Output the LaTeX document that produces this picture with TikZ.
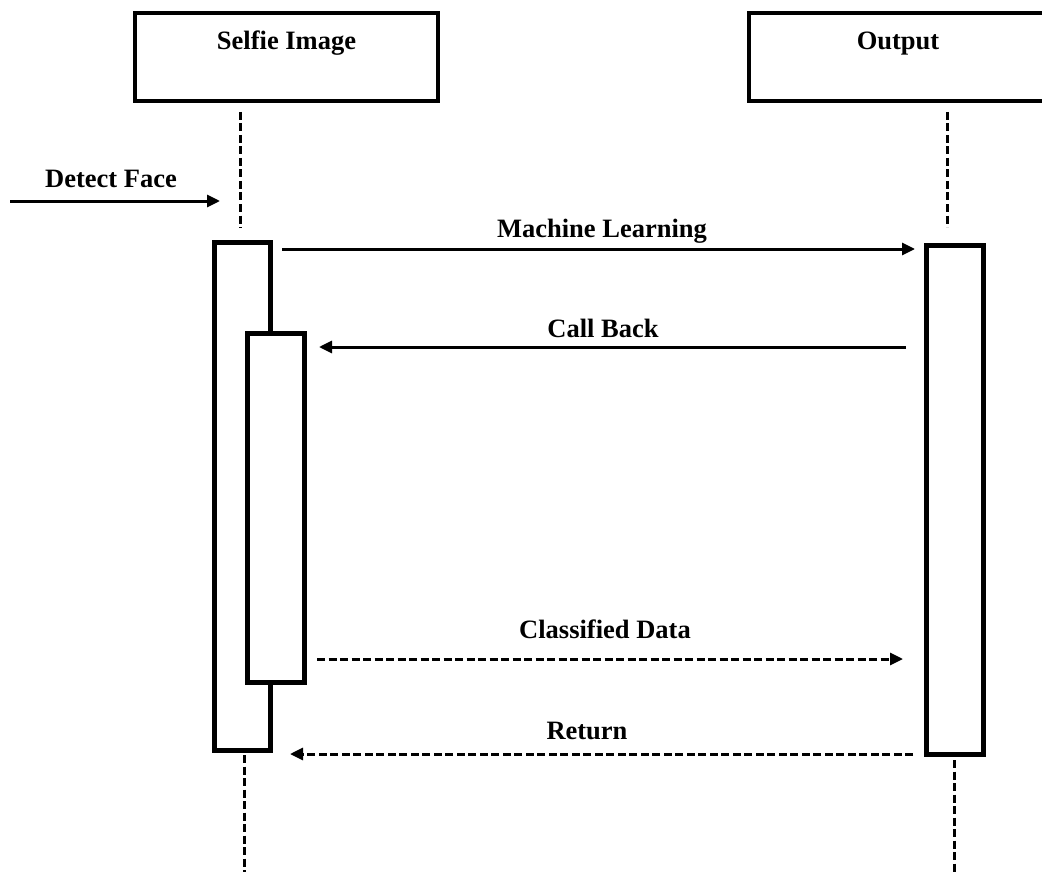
\documentclass[tikz,border=0pt]{standalone}
\usepackage{fontspec}
\setmainfont{Liberation Serif}
\usetikzlibrary{arrows.meta}
\begin{document}
\begin{tikzpicture}[x=1pt,y=-1pt,
  obj/.style={draw,line width=4.5pt,inner sep=0pt},
  act/.style={draw,fill=white,line width=5pt,inner sep=0pt},
  lifeline/.style={line width=3pt,dash pattern=on 8pt off 3.5pt},
  msg/.style={line width=3pt,-{Triangle[length=13pt,width=12pt]}},
  reply/.style={msg,dash pattern=on 8pt off 3.5pt},
  lbl/.style={font=\bfseries\fontsize{26.5}{30}\selectfont,anchor=base,inner sep=0pt}]
\path[use as bounding box] (0,0) rectangle (1042,872);
\clip (0,0) rectangle (1042,872);
% objects
\node[obj,minimum width=303pt,minimum height=88pt] (selfie) at (286.5,57) {};
\node[lbl] (selfietxt) at (286.5,50) {Selfie Image};
\node[obj,minimum width=298pt,minimum height=88pt] (output) at (898,57) {};
\node[lbl] (outputtxt) at (898,50) {Output};
% lifelines
\coordinate (lA1) at (240,112); \coordinate (lA2) at (240,228);
\coordinate (lA3) at (244,755); \coordinate (lA4) at (244,872);
\coordinate (lC1) at (947,112); \coordinate (lC2) at (947,227);
\coordinate (lC3) at (954,760); \coordinate (lC4) at (954,872);
\draw[lifeline] (lA1) -- (lA2);
\draw[lifeline] (lA3) -- (lA4);
\draw[lifeline] (lC1) -- (lC2);
\draw[lifeline] (lC3) -- (lC4);
% activations
\node[act,minimum width=56pt,minimum height=508pt] (actA) at (242,496) {};
\node[act,minimum width=57.5pt,minimum height=349pt] (actB) at (275.75,508) {};
\node[act,minimum width=57pt,minimum height=509pt] (actC) at (954.5,500) {};
% messages
\coordinate (dfS) at (10,201); \coordinate (dfE) at (220,201);
\draw[msg] (dfS) -- (dfE);
\node[lbl] (dftxt) at (111,187) {Detect Face};

\coordinate (mlS) at (282,249); \coordinate (mlE) at (915,249);
\draw[msg] (mlS) -- (mlE);
\node[lbl] (mltxt) at (602,237) {Machine Learning};

\coordinate (cbS) at (906,347); \coordinate (cbE) at (319,347);
\draw[msg] (cbS) -- (cbE);
\node[lbl] (cbtxt) at (603,337) {Call Back};

\coordinate (cdS) at (317,659); \coordinate (cdE) at (903,659);
\draw[reply] (cdS) -- (cdE);
\node[lbl] (cdtxt) at (605,638) {Classified Data};

\coordinate (rtS) at (913,754); \coordinate (rtE) at (290,754);
\draw[reply] (rtS) -- (rtE);
\node[lbl] (rttxt) at (587,739) {Return};
\end{tikzpicture}
\end{document}
